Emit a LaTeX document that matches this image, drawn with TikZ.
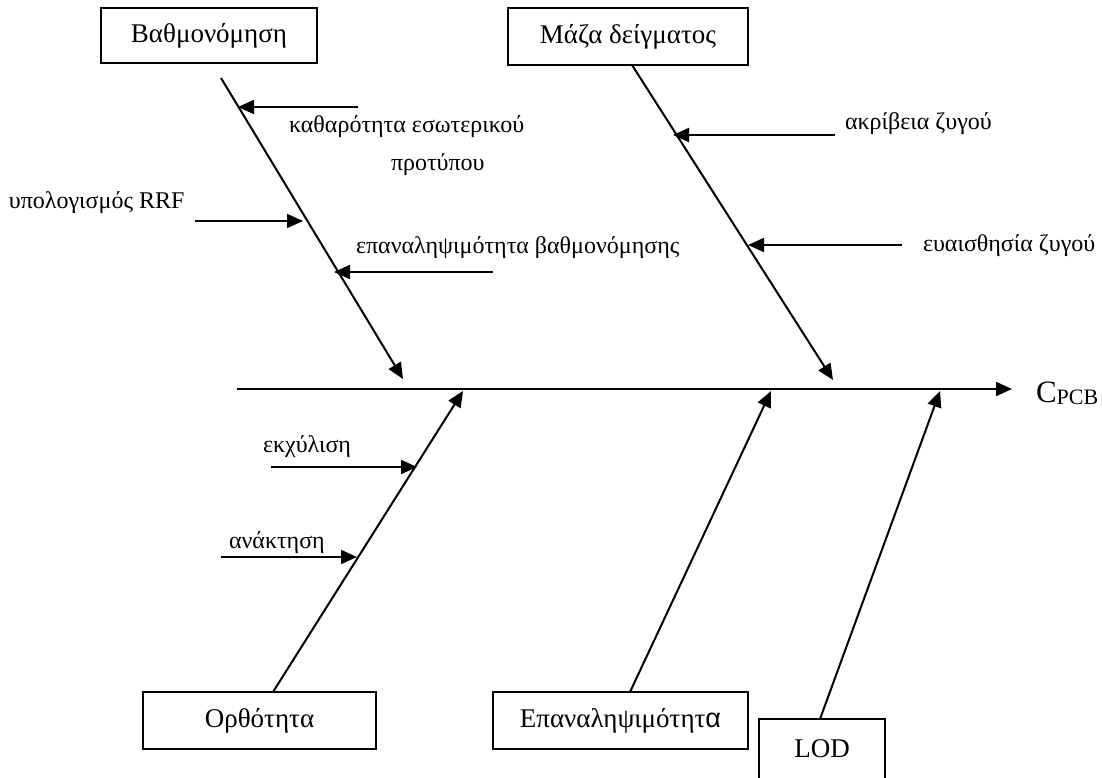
\documentclass[tikz,border=0pt]{standalone}
\usepackage{fontspec}
\setmainfont{Liberation Serif}
\newfontfamily\grsans{Liberation Sans}
\usetikzlibrary{arrows.meta}

\tikzset{
  box/.style={draw,line width=1.8pt,inner sep=0pt,font=\fontsize{27}{32}\selectfont},
  lbl/.style={anchor=west,inner sep=0pt,font=\fontsize{24}{29}\selectfont},
  bone/.style={line width=2pt,-{Triangle[length=16pt,width=14pt]}}
}

\begin{document}
\begin{tikzpicture}[x=1pt,y=-1pt,line width=2pt]
\useasboundingbox (0,0) rectangle (1102,778);

% cause boxes
\node[box,minimum width=216pt,minimum height=55pt] (kal) at (209,35.5) {Βαθμονόμηση};
\node[box,minimum width=240pt,minimum height=57pt] (mass) at (628,36.5) {Μάζα δείγματος};
\node[box,minimum width=233pt,minimum height=57pt] (orth) at (259.5,720.5) {Ορθότητα};
\node[box,minimum width=255pt,minimum height=57pt] (rep) at (620.5,720.5) {Επαναληψιμότητ{\grsans α}};
\node[box,minimum width=126pt,minimum height=60pt] (lod) at (822,749) {LOD};

% spine
\coordinate (sp0) at (237,389);
\node[anchor=west,inner sep=0pt,font=\fontsize{31}{37}\selectfont] (cpcb) at (1035,393)
  {C\raisebox{-2pt}{\fontsize{22}{26}\selectfont PCB}};
\draw[bone,shorten >=23pt] (sp0) -- (sp0 -| cpcb.west);

% main bones
\coordinate (kb) at (221,78);   \coordinate (k0) at (403,379);
\coordinate (mb) at (632,65);   \coordinate (m0) at (833,380);
\coordinate (ob) at (273,692);  \coordinate (o0) at (463,391);
\coordinate (rb) at (630,692);  \coordinate (r0) at (771,391);
\coordinate (lb) at (820,719);  \coordinate (l0) at (940,391);
\draw[bone] (kb) -- (k0);
\draw[bone] (mb) -- (m0);
\draw[bone] (ob) -- (o0);
\draw[bone] (rb) -- (r0);
\draw[bone] (lb) -- (l0);

% sub causes
\coordinate (k1) at (358,107);  \coordinate (k1e) at (238,107);
\coordinate (k2) at (195,221);  \coordinate (k2e) at (303,221);
\coordinate (k3) at (493,272);  \coordinate (k3e) at (334,272);
\coordinate (m1) at (835,135);  \coordinate (m1e) at (673,135);
\coordinate (m2) at (902,245);  \coordinate (m2e) at (748,245);
\coordinate (o1) at (271,467);  \coordinate (o1e) at (417,467);
\coordinate (o2) at (221,557);  \coordinate (o2e) at (357,557);
\draw[bone] (k1) -- (k1e);
\draw[bone] (k2) -- (k2e);
\draw[bone] (k3) -- (k3e);
\draw[bone] (m1) -- (m1e);
\draw[bone] (m2) -- (m2e);
\draw[bone] (o1) -- (o1e);
\draw[bone] (o2) -- (o2e);

\node[lbl] (t1) at (288,127) {καθαρότητα εσωτερικού};
\node[lbl] (t1b) at (390,165) {προτύπου};
\node[lbl] (t2) at (8,203) {υπολογισμός RRF};
\node[lbl] (t3) at (355,248) {επαναληψιμότητα βαθμονόμησης};
\node[lbl] (t4) at (844,124) {ακρίβεια ζυγού};
\node[lbl] (t5) at (922,246) {ευαισθησία ζυγού};
\node[lbl] (t6) at (262,447) {εκχύλιση};
\node[lbl] (t7) at (228,543) {ανάκτηση};
\end{tikzpicture}
\end{document}
